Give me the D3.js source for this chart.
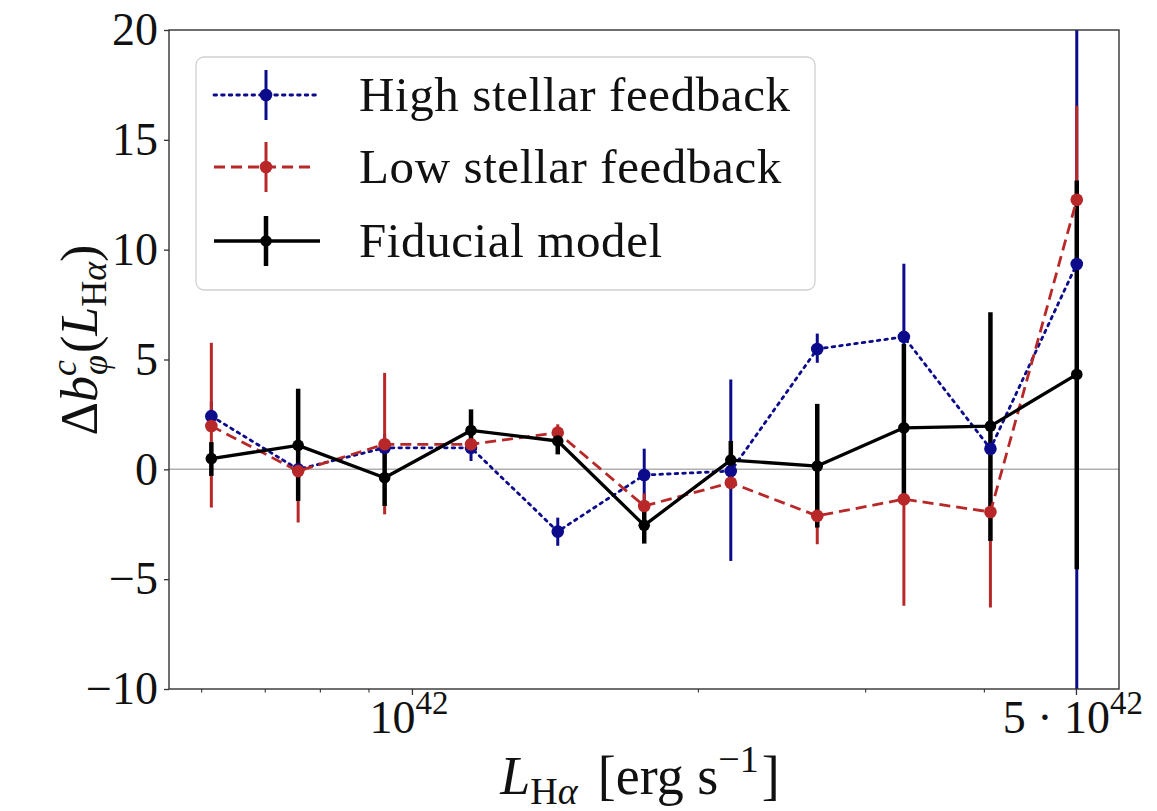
<!DOCTYPE html>
<html><head><meta charset="utf-8">
<script src="https://cdn.jsdelivr.net/npm/d3@7"></script>
<style>body{margin:0;background:#fff}</style>
</head><body>
<svg id="c" width="1157" height="811" xmlns="http://www.w3.org/2000/svg"></svg>
<script>
// ---------- data ----------
const luminosity = [6.15e41, 7.59e41, 9.36e41, 1.154e42, 1.424e42, 1.756e42, 2.166e42, 2.671e42, 3.295e42, 4.064e42, 5.01e42];

const highValues = [2.42, 0.00, 0.98, 0.98, -2.83, -0.26, -0.08, 5.48, 6.03, 0.94, 9.35];
const highLower  = [1.70, -0.80, 0.40, 0.38, -3.48, -1.40, -4.17, 4.85, 2.80, -2.00, -12.0];
const highUpper  = [3.10, 0.80, 1.60, 1.60, -2.20, 0.94, 4.09, 6.18, 9.36, 4.50, 30.0];

const lowValues = [1.97, -0.08, 1.14, 1.14, 1.67, -1.67, -0.61, -2.12, -1.36, -1.94, 12.27];
const lowLower  = [-1.74, -2.42, -2.05, 0.95, 1.30, -2.20, -0.85, -3.41, -6.21, -6.29, 8.00];
const lowUpper  = [5.76, 2.20, 4.39, 1.33, 2.05, -1.10, -0.37, -0.80, 3.50, 2.40, 16.55];

const fidValues = [0.49, 1.09, -0.38, 1.77, 1.29, -2.55, 0.42, 0.15, 1.89, 1.97, 4.32];
const fidLower  = [-0.30, -1.44, -1.67, 0.82, 0.68, -3.38, -0.45, -2.65, -1.30, -3.26, -4.55];
const fidUpper  = [1.24, 3.67, 0.92, 2.73, 1.90, -1.70, 1.29, 2.98, 5.70, 7.15, 13.15];

const seriesNames = ["High stellar feedback", "Low stellar feedback", "Fiducial model"];
const yTicks = [-10, -5, 0, 5, 10, 15, 20];
const xMajorTicks = [1e42, 5e42];
const xMajorLabels = [["10", "42"], ["5 \u00B7 10", "42"]];
const xMinorTicks = [6e41, 7e41, 8e41, 9e41, 2e42, 3e42, 4e42];

// ---------- layout ----------
const L = 169, R = 1119, T = 30, B = 689;
const FONT = "'Liberation Serif', 'DejaVu Serif', serif";
const svg = d3.select("#c");
const x = d3.scaleLog().domain([5.55e41, 5.55e42]).range([L, R]);
const y = d3.scaleLinear().domain([-10, 20]).range([B, T]);

const styles = [
  {color: "#0b0b8c", lw: 2.8, dash: "2.6,5", cap: "round", ew: 3, r: 6.3},
  {color: "#b82828", lw: 2.8, dash: "11,6", cap: "butt", ew: 3, r: 6.3},
  {color: "#000000", lw: 3.3, dash: null, cap: "butt", ew: 4.5, r: 5.8}
];
const series = [
  {name: seriesNames[0], v: highValues, lo: highLower, hi: highUpper, s: styles[0]},
  {name: seriesNames[1], v: lowValues, lo: lowLower, hi: lowUpper, s: styles[1]},
  {name: seriesNames[2], v: fidValues, lo: fidLower, hi: fidUpper, s: styles[2]}
];

svg.append("defs").append("clipPath").attr("id", "clip")
  .append("rect").attr("x", L).attr("y", T).attr("width", R - L).attr("height", B - T);

// zero line
svg.append("line").attr("x1", L).attr("x2", R).attr("y1", y(0)).attr("y2", y(0))
  .attr("stroke", "#b0b0b0").attr("stroke-width", 1.5);

const plot = svg.append("g").attr("clip-path", "url(#clip)");

// error bars (all series first)
series.forEach(sr => {
  plot.append("g").selectAll("line").data(luminosity).join("line")
    .attr("x1", d => x(d)).attr("x2", d => x(d))
    .attr("y1", (d, i) => y(sr.lo[i])).attr("y2", (d, i) => y(sr.hi[i]))
    .attr("stroke", sr.s.color).attr("stroke-width", sr.s.ew);
});
// lines + markers
series.forEach(sr => {
  const line = d3.line().x((d, i) => x(luminosity[i])).y(d => y(d));
  plot.append("path").datum(sr.v).attr("d", line)
    .attr("fill", "none").attr("stroke", sr.s.color).attr("stroke-width", sr.s.lw)
    .attr("stroke-dasharray", sr.s.dash).attr("stroke-linecap", sr.s.cap)
    .attr("stroke-linejoin", "round");
  plot.append("g").selectAll("circle").data(sr.v).join("circle")
    .attr("cx", (d, i) => x(luminosity[i])).attr("cy", d => y(d))
    .attr("r", sr.s.r).attr("fill", sr.s.color);
});

// ---------- axes ----------
const yAxis = svg.append("g").attr("transform", `translate(${L},0)`)
  .call(d3.axisLeft(y).tickValues(yTicks).tickSize(5).tickPadding(6)
    .tickFormat(d => d < 0 ? "\u2212" + Math.abs(d) : d));
yAxis.select(".domain").remove();
yAxis.selectAll("line").attr("stroke", "#333").attr("stroke-width", 1.3);
yAxis.selectAll("text").attr("font-family", FONT).attr("font-size", 46).attr("fill", "#111");

const xAxis = svg.append("g").attr("transform", `translate(0,${B})`)
  .call(d3.axisBottom(x).tickValues(xMajorTicks).tickSize(6).tickFormat(""));
xAxis.select(".domain").remove();
xAxis.selectAll("line").attr("stroke", "#333").attr("stroke-width", 1.3);
const xMinor = svg.append("g").attr("transform", `translate(0,${B})`)
  .call(d3.axisBottom(x).tickValues(xMinorTicks).tickSize(3.5).tickFormat(""));
xMinor.select(".domain").remove();
xMinor.selectAll("line").attr("stroke", "#333").attr("stroke-width", 1.1);

xMajorTicks.forEach((t, i) => {
  const tx = svg.append("text").attr("x", x(t) - 3).attr("y", 733)
    .attr("text-anchor", "middle").attr("font-family", FONT).attr("font-size", 46).attr("fill", "#111")
    .attr("xml:space", "preserve").style("white-space", "pre");
  tx.append("tspan").text(xMajorLabels[i][0]);
  tx.append("tspan").attr("font-size", 33).attr("dy", -19).text(xMajorLabels[i][1]);
});

// frame
svg.append("rect").attr("x", L).attr("y", T).attr("width", R - L).attr("height", B - T)
  .attr("fill", "none").attr("stroke", "#333").attr("stroke-width", 1.4);

// x label
const xl = svg.append("text").attr("x", (L + R) / 2 - 4).attr("y", 794).attr("text-anchor", "middle")
  .attr("font-family", FONT).attr("font-size", 54).attr("fill", "#111");
xl.append("tspan").attr("font-style", "italic").text("L");
xl.append("tspan").attr("font-size", 38).attr("dy", 10).text("H");
xl.append("tspan").attr("font-size", 38).attr("font-style", "italic").text("\u03B1");
xl.append("tspan").attr("dy", -10).attr("dx", 20).text("[erg s");
xl.append("tspan").attr("font-size", 38).attr("dy", -22).text("\u22121");
xl.append("tspan").attr("dy", 22).attr("dx", 3).text("]");

// y label
const yl = svg.append("text").attr("transform", "translate(97,340) rotate(-90)").attr("text-anchor", "middle")
  .attr("font-family", FONT).attr("font-size", 52).attr("fill", "#111");
yl.append("tspan").text("\u0394");
yl.append("tspan").attr("font-style", "italic").text("b");
yl.append("tspan").attr("font-style", "italic").attr("font-size", 36).attr("dy", -21).text("c");
yl.append("tspan").attr("font-style", "italic").attr("font-size", 36).attr("dy", 31).attr("dx", -15).text("\u03C6");
yl.append("tspan").attr("dy", -10).attr("dx", 2).text("(");
yl.append("tspan").attr("font-style", "italic").text("L");
yl.append("tspan").attr("font-size", 36).attr("dy", 9).text("H");
yl.append("tspan").attr("font-size", 36).attr("font-style", "italic").text("\u03B1");
yl.append("tspan").attr("dy", -9).text(")");

// ---------- legend ----------
const lg = svg.append("g");
lg.append("rect").attr("x", 196).attr("y", 57).attr("width", 619).attr("height", 233)
  .attr("rx", 8).attr("fill", "#fff").attr("fill-opacity", 0.85)
  .attr("stroke", "#d0d0d0").attr("stroke-width", 1.3);
const rowY = [95, 167, 241];
series.forEach((sr, i) => {
  const cy = rowY[i];
  lg.append("line").attr("x1", 214).attr("x2", i === 2 ? 320 : 316).attr("y1", cy).attr("y2", cy)
    .attr("stroke", sr.s.color).attr("stroke-width", sr.s.lw)
    .attr("stroke-dasharray", sr.s.dash).attr("stroke-linecap", sr.s.cap);
  lg.append("line").attr("x1", 266).attr("x2", 266).attr("y1", cy - 25).attr("y2", cy + 25)
    .attr("stroke", sr.s.color).attr("stroke-width", sr.s.ew);
  lg.append("circle").attr("cx", 266).attr("cy", cy).attr("r", sr.s.r).attr("fill", sr.s.color);
  lg.append("text").attr("x", 359).attr("y", cy + 16).attr("font-family", FONT)
    .attr("font-size", 49).attr("letter-spacing", 0.6).attr("fill", "#111").text(sr.name);
});
</script>
</body></html>
